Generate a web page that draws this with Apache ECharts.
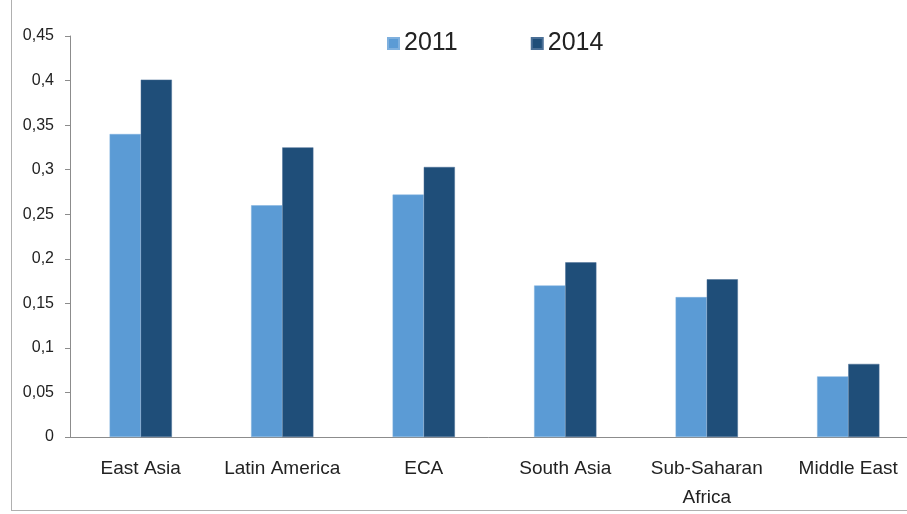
<!DOCTYPE html>
<html>
<head>
<meta charset="utf-8">
<script src="https://cdn.jsdelivr.net/npm/echarts@6/dist/echarts.min.js"></script>
<style>
  html, body { margin: 0; padding: 0; background: #fff; }
  #main { width: 907px; height: 514px; }
</style>
</head>
<body>
<div id="main"></div>
<script>
var regions = ['East Asia', 'Latin America', 'ECA', 'South Asia', 'Sub-Saharan\nAfrica', 'Middle East'];
var years = ['2011', '2014'];
var values2011 = [0.340, 0.260, 0.272, 0.170, 0.157, 0.068];
var values2014 = [0.401, 0.325, 0.303, 0.196, 0.177, 0.082];
var yTicks = [0, 0.05, 0.1, 0.15, 0.2, 0.25, 0.3, 0.35, 0.4, 0.45];

var font = "'Liberation Sans', sans-serif";

var option = {
    animation: false,
    backgroundColor: '#fff',
    legend: {
        data: years,
        icon: 'rect',
        top: 26,
        left: 382,
        itemWidth: 11,
        itemHeight: 11,
        itemGap: 73,
        textStyle: { fontFamily: font, fontSize: 25, color: '#222' }
    },
    grid: { left: 70, width: 849, top: 36, bottom: 77, outerBoundsMode: 'none' },
    xAxis: {
        type: 'category',
        data: regions,
        axisLine: { lineStyle: { color: '#8c8c8c' } },
        axisTick: { length: 8, lineStyle: { color: '#8c8c8c' } },
        axisLabel: { margin: 17, fontFamily: font, fontSize: 19, color: '#222', lineHeight: 29, interval: 0 }
    },
    yAxis: {
        type: 'value',
        min: 0,
        max: 0.45,
        interval: 0.05,
        splitLine: { show: false },
        axisLine: { show: true, lineStyle: { color: '#8c8c8c' } },
        axisTick: { show: true, length: 5, lineStyle: { color: '#8c8c8c' } },
        axisLabel: {
            margin: 16,
            fontFamily: font,
            fontSize: 16,
            color: '#222',
            formatter: function (v) {
                var i = yTicks.indexOf(Math.round(v * 100) / 100);
                return String(i >= 0 ? yTicks[i] : v).replace('.', ',');
            }
        }
    },
    series: [
        {
            name: years[0],
            type: 'bar',
            data: values2011,
            barGap: 0,
            barCategoryGap: '56%',
            itemStyle: { color: '#5b9bd5', borderColor: '#7fb0de', borderWidth: 0.5 }
        },
        {
            name: years[1],
            type: 'bar',
            data: values2014,
            itemStyle: { color: '#1f4e79', borderColor: '#4a6f96', borderWidth: 0.5 }
        }
    ],
    graphic: [
        { type: 'line', shape: { x1: 11.5, y1: 0, x2: 11.5, y2: 510.5 }, style: { stroke: '#b0b0b0', lineWidth: 1 } },
        { type: 'line', shape: { x1: 11, y1: 510.5, x2: 907, y2: 510.5 }, style: { stroke: '#b0b0b0', lineWidth: 1 } }
    ]
};

var chart = echarts.init(document.getElementById('main'));
chart.setOption(option);
</script>
</body>
</html>
